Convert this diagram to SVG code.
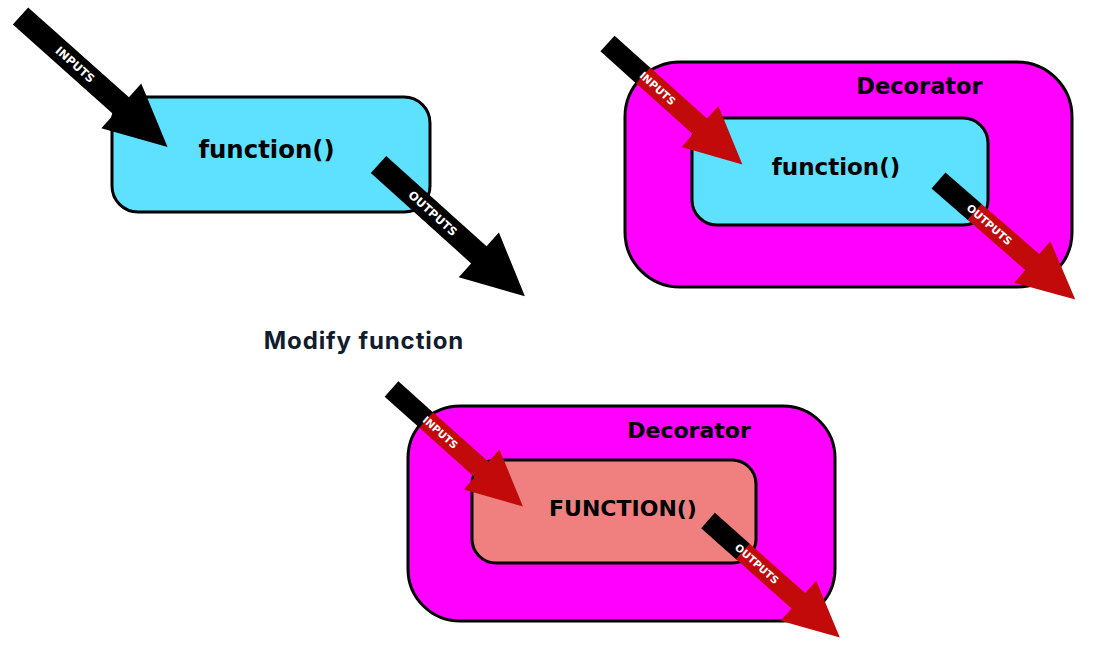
<svg xmlns="http://www.w3.org/2000/svg" xmlns:xlink="http://www.w3.org/1999/xlink" width="1103" height="649" viewBox="0 0 1103 649">
<style>
.fn{fill:#5ee0ff;stroke:#000;stroke-width:3}
.dec{fill:#ff00ff;stroke:#000;stroke-width:3}
.fnm{fill:#f08080;stroke:#000;stroke-width:3}
.t{font-family:"DejaVu Sans",sans-serif;font-weight:bold;fill:#000;text-anchor:middle}
.lbl{font-family:"DejaVu Sans",sans-serif;font-weight:bold;font-size:11.5px;fill:#fff;text-anchor:middle}
.title{font-family:Inter,"Noto Sans",sans-serif;font-weight:700;font-size:24px;letter-spacing:0.9px;fill:#0f1d2e;text-anchor:middle}
</style>
<defs>
<path id="arrowFull" d="M0,-11.5 H135 V-30 L197,0 L135,30 V11.5 H0 Z"/>
<path id="arrowRed" d="M52,-11.5 H135 V-30 L197,0 L135,30 V11.5 H52 Z" fill="#c20a0a"/>
<rect id="arrowTail" x="0" y="-11.5" width="53" height="23" fill="#000"/>
</defs>
<g id="plain-function">
<rect class="fn" x="112" y="97" width="318" height="115" rx="26"/>
<text class="t" x="266.5" y="158" font-size="24.4">function()</text>
</g>
<g id="decorated-function">
<rect class="dec" x="625" y="62" width="447" height="225" rx="55"/>
<text class="t" x="919.5" y="94" font-size="22.5">Decorator</text>
<g id="inner-function">
<rect class="fn" x="692" y="118" width="296" height="107" rx="25"/>
<text class="t" x="836" y="175" font-size="23">function()</text>
</g>
</g>
<g id="modify-label">
<text class="title" x="364" y="349">Modify function</text>
</g>
<g id="modified-decorated-function">
<rect class="dec" x="408" y="406" width="427" height="215" rx="52"/>
<text class="t" x="689" y="438" font-size="22">Decorator</text>
<g id="modified-inner-function">
<rect class="fnm" x="472" y="460" width="284" height="103" rx="24"/>
<text class="t" x="623" y="516" font-size="22">FUNCTION()</text>
</g>
</g>
<g id="connectors">
<g transform="translate(20.5,16) rotate(41.7)">
<use xlink:href="#arrowFull" fill="#000"/>
<text class="lbl" x="73" y="4">INPUTS</text>
</g>
<g transform="translate(378.5,164.5) rotate(42)">
<use xlink:href="#arrowFull" fill="#000"/>
<text class="lbl" x="73" y="4">OUTPUTS</text>
</g>
<g transform="translate(607.5,43.5) rotate(41.9) scale(0.92)">
<use xlink:href="#arrowTail"/>
<use xlink:href="#arrowRed"/>
<text class="lbl" x="73" y="4">INPUTS</text>
</g>
<g transform="translate(938.5,180.5) rotate(41) scale(0.92)">
<use xlink:href="#arrowTail"/>
<use xlink:href="#arrowRed"/>
<text class="lbl" x="73" y="4">OUTPUTS</text>
</g>
<g transform="translate(391.5,389) rotate(41.8) scale(0.895)">
<use xlink:href="#arrowTail"/>
<use xlink:href="#arrowRed"/>
<text class="lbl" x="73" y="4">INPUTS</text>
</g>
<g transform="translate(708,520.5) rotate(41.6) scale(0.895)">
<use xlink:href="#arrowTail"/>
<use xlink:href="#arrowRed"/>
<text class="lbl" x="73" y="4">OUTPUTS</text>
</g>
</g>
</svg>
